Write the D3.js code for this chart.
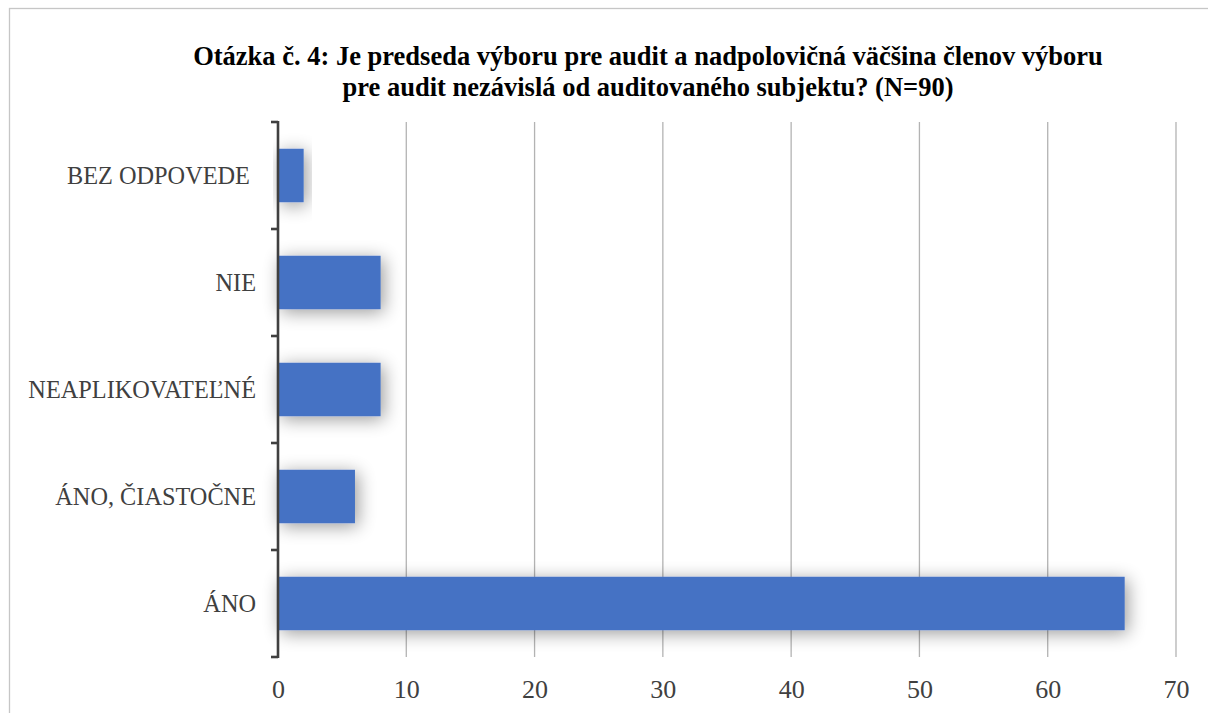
<!DOCTYPE html>
<html>
<head>
<meta charset="utf-8">
<script src="https://cdn.jsdelivr.net/npm/d3@7"></script>
<style>
  html, body { margin: 0; padding: 0; background: #fff; }
  svg { display: block; }
</style>
</head>
<body>
<svg id="chart" width="1208" height="713"></svg>
<script>
// Survey answers (N=90), top to bottom as drawn
const categories = ["BEZ ODPOVEDE ", "NIE", "NEAPLIKOVATEĽNÉ", "ÁNO, ČIASTOČNE", "ÁNO"];
const counts = [2, 8, 8, 6, 66];
const xTicks = [0, 10, 20, 30, 40, 50, 60, 70];
const titleLines = [
  "Otázka č. 4: Je predseda výboru pre audit a nadpolovičná väčšina členov výboru",
  "pre audit nezávislá od auditovaného subjektu? (N=90)"
];

const svg = d3.select("#chart");
const W = 1208, H = 713;
const m = { left: 278, right: 32, top: 122, bottom: 56 };
const serif = "'Liberation Serif', 'Times New Roman', serif";

// Chart area frame
svg.append("rect")
  .attr("x", 9.5).attr("y", 8.5)
  .attr("width", W + 10).attr("height", H + 10)
  .attr("fill", "#fff").attr("stroke", "#c6c6c6").attr("stroke-width", 1.3);

// Soft outer shadow for bars
const defs = svg.append("defs");
const f = defs.append("filter").attr("id", "barShadow")
  .attr("x", "-30%").attr("y", "-80%").attr("width", "160%").attr("height", "260%");
f.append("feGaussianBlur").attr("in", "SourceAlpha").attr("stdDeviation", 9).attr("result", "b");
f.append("feOffset").attr("in", "b").attr("dx", 3).attr("dy", 3).attr("result", "o");
f.append("feComponentTransfer").attr("in", "o").attr("result", "s")
  .append("feFuncA").attr("type", "linear").attr("slope", 0.4);
const fm = f.append("feMerge");
fm.append("feMergeNode").attr("in", "s");
fm.append("feMergeNode").attr("in", "SourceGraphic");

const x = d3.scaleLinear().domain([0, 70]).range([m.left, W - m.right]);
const y = d3.scaleBand().domain(categories).range([m.top, H - m.bottom]).paddingInner(0.5).paddingOuter(0.25);

// Vertical gridlines
svg.append("g")
  .selectAll("line")
  .data(xTicks.filter(d => d > 0))
  .join("line")
  .attr("x1", d => x(d)).attr("x2", d => x(d))
  .attr("y1", m.top).attr("y2", H - m.bottom)
  .attr("stroke", "#b3b3b3").attr("stroke-width", 1.3);

// Bars
svg.append("g")
  .selectAll("rect")
  .data(categories.map((c, i) => ({ c, v: counts[i] })))
  .join("rect")
  .attr("x", x(0))
  .attr("y", d => y(d.c))
  .attr("width", d => x(d.v) - x(0))
  .attr("height", y.bandwidth())
  .attr("fill", "#4472c4")
  .attr("filter", "url(#barShadow)");

// Category axis with tick marks between bands
const yAxisG = svg.append("g");
const edges = d3.range(categories.length + 1).map(i => m.top + i * y.step());
yAxisG.append("line")
  .attr("x1", m.left).attr("x2", m.left)
  .attr("y1", m.top - 1).attr("y2", H - m.bottom + 1)
  .attr("stroke", "#404040").attr("stroke-width", 2.6);
yAxisG.selectAll("line.tick")
  .data(edges)
  .join("line").attr("class", "tick")
  .attr("x1", m.left - 7).attr("x2", m.left)
  .attr("y1", d => d).attr("y2", d => d)
  .attr("stroke", "#404040").attr("stroke-width", 2.6);
yAxisG.selectAll("text")
  .data(categories)
  .join("text")
  .attr("x", 256)
  .attr("y", d => y(d) + y.bandwidth() / 2 + 8.5)
  .attr("text-anchor", "end")
  .style("white-space", "pre")
  .attr("font-family", serif)
  .attr("font-size", 24.3)
  .attr("fill", "#404040")
  .text(d => d);

// Value axis labels
const xAxis = d3.axisBottom(x).tickValues(xTicks).tickSize(0).tickPadding(0);
const xg = svg.append("g").attr("transform", `translate(0,${H - m.bottom})`).call(xAxis);
xg.select(".domain").remove();
xg.selectAll("text")
  .attr("dy", null)
  .attr("y", 41)
  .attr("font-family", serif)
  .attr("font-size", 26)
  .attr("fill", "#404040");

// Title
svg.append("g")
  .selectAll("text")
  .data(titleLines)
  .join("text")
  .attr("x", 648)
  .attr("y", (d, i) => 65 + i * 31)
  .attr("text-anchor", "middle")
  .attr("font-family", serif)
  .attr("font-weight", "bold")
  .attr("font-size", 26.5)
  .attr("fill", "#000")
  .text(d => d);
</script>
</body>
</html>
